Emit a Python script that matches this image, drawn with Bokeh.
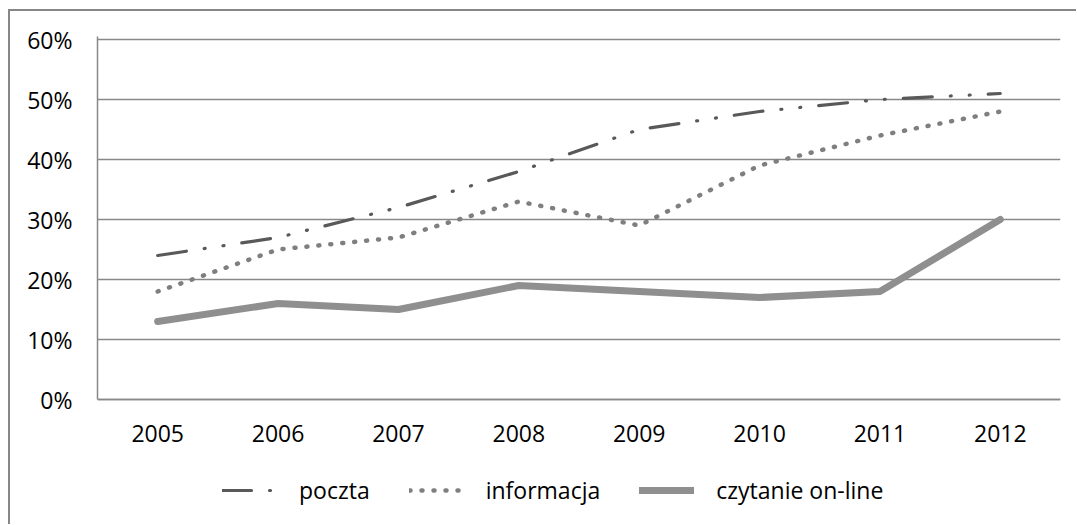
from bokeh.plotting import figure
from bokeh.models import FactorRange, Range1d, FixedTicker, PrintfTickFormatter, Legend, LegendItem
from bokeh.embed import file_html
from bokeh.resources import INLINE

years = ["2005", "2006", "2007", "2008", "2009", "2010", "2011", "2012"]
poczta = [24, 27, 32, 38, 45, 48, 50, 51]
informacja = [18, 25, 27, 33, 29, 39, 44, 48]
czytanie = [13, 16, 15, 19, 18, 17, 18, 30]
y_ticks = [0, 10, 20, 30, 40, 50, 60]

FONT = "Open Sans"
GRID = "#888888"
Y_TOP = 60.5
FRAME_H = 488
PX_PER_UNIT = 6.0

p = figure(x_range=FactorRange(*years, range_padding=0),
           y_range=Range1d(Y_TOP - FRAME_H / PX_PER_UNIT, Y_TOP),
           width=1066, height=513, frame_width=963, frame_height=FRAME_H,
           output_backend="svg", toolbar_location=None,
           min_border_left=87, min_border_right=16, min_border_top=25, min_border_bottom=0)
p.styles = {"margin-left": "8px", "margin-top": "9px",
            "border-left": "2px solid #878787", "border-top": "2px solid #878787"}
p.outline_line_color = None
p.background_fill_color = "white"
p.border_fill_color = "white"

p.xgrid.grid_line_color = None
p.ygrid.grid_line_color = GRID
p.ygrid.grid_line_width = 1.5
p.yaxis.ticker = FixedTicker(ticks=y_ticks)
p.yaxis.formatter = PrintfTickFormatter(format="%d%%")
p.yaxis.bounds = (0, Y_TOP)
p.xaxis.fixed_location = 0

for ax in (p.xaxis[0], p.yaxis[0]):
    ax.axis_line_color = GRID
    ax.axis_line_width = 1.5
    ax.major_tick_line_color = None
    ax.minor_tick_line_color = None
    ax.major_tick_out = 0
    ax.major_tick_in = 0
    ax.major_label_text_font = FONT
    ax.major_label_text_font_size = "23px"
    ax.major_label_text_color = "#000000"
p.yaxis.major_label_standoff = 25
p.xaxis.major_label_standoff = 25

r1 = p.line(years, poczta, line_color="#595959", line_width=3.2, line_cap="round",
            line_dash="29 18 1 18 1 18")
r2 = p.line(years, informacja, line_color="#7f7f7f", line_width=4.5, line_cap="round",
            line_dash="1 11")
r3 = p.line(years, czytanie, line_color="#8f8f8f", line_width=7, line_cap="round",
            line_join="round")

legend = Legend(items=[LegendItem(label="poczta", renderers=[r1]),
                       LegendItem(label="informacja", renderers=[r2]),
                       LegendItem(label="czytanie on-line", renderers=[r3])],
                orientation="horizontal", location=(125, 18),
                glyph_width=55, glyph_height=20, label_height=20, label_standoff=22, spacing=39,
                padding=0, margin=0, border_line_color=None, background_fill_alpha=0,
                label_text_font=FONT, label_text_font_size="23px", label_text_color="#000000")
p.add_layout(legend, "center")

open("out.html", "w").write(file_html(p, INLINE))
